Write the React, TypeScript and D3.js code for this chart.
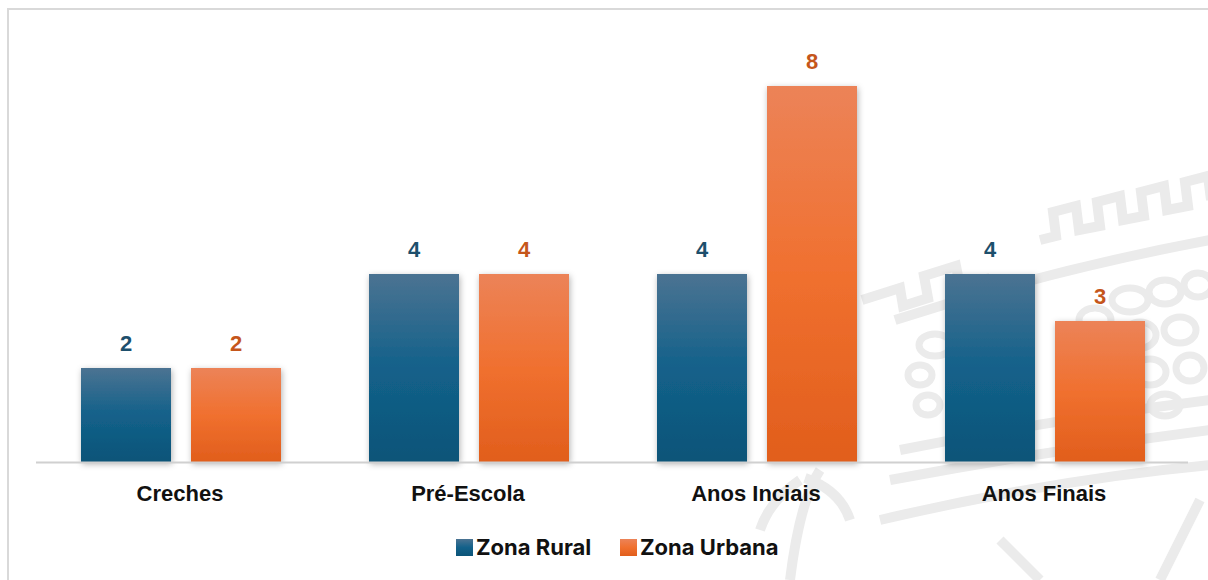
import { useMemo } from "react";
import * as d3 from "d3";

const categories = ["Creches", "Pré-Escola", "Anos Inciais", "Anos Finais"];
const ruralValues = [2, 4, 4, 4];
const urbanValues = [2, 4, 8, 3];
const seriesNames = ["Zona Rural", "Zona Urbana"];

const W = 1208;
const H = 580;

export default function App() {
  const x0 = d3.scaleBand().domain(categories).range([36, 1188]).paddingInner(0).paddingOuter(0);
  const x1 = d3.scaleBand().domain(seriesNames).range([45, 245]).paddingInner(2 / 11);
  const y = d3.scaleLinear().domain([0, 8]).range([462, 86]);

  const series = [
    { name: seriesNames[0], values: ruralValues, fill: "url(#gRural)", label: "#1d4f6c" },
    { name: seriesNames[1], values: urbanValues, fill: "url(#gUrban)", label: "#c5561b" },
  ];

  // faint watermark (crown / stones) in the background
  const merlons = useMemo(() => {
    const pts: string[] = [];
    let px = 1040, py = 240;
    pts.push(`M${px},${py}`);
    for (let i = 0; i < 4; i++) {
      pts.push(`L${px + 16},${py - 4}`);
      pts.push(`L${px + 13},${py - 28}`);
      pts.push(`L${px + 36},${py - 34}`);
      pts.push(`L${px + 39},${py - 10}`);
      px += 44; py -= 10;
    }
    return pts.join(" ");
  }, []);

  const stones = [
    [935, 345, 16, 11], [965, 338, 15, 11], [1130, 300, 18, 12], [1165, 292, 16, 12], [1198, 285, 14, 12],
    [1095, 320, 16, 12], [1140, 335, 16, 13], [1180, 330, 16, 13], [1110, 360, 15, 12], [1150, 372, 16, 13],
    [1190, 368, 14, 13], [1120, 398, 15, 11], [1165, 405, 15, 11], [920, 375, 12, 10], [928, 405, 12, 10],
  ];

  return (
    <svg width={W} height={H} style={{ position: "absolute", left: 0, top: 0, background: "#fff" }}>
      <defs>
        <linearGradient id="gRural" x1="0" y1="0" x2="0" y2="1">
          <stop offset="0" stopColor="#4b7392" />
          <stop offset="0.5" stopColor="#13618a" />
          <stop offset="1" stopColor="#0c5478" />
        </linearGradient>
        <linearGradient id="gUrban" x1="0" y1="0" x2="0" y2="1">
          <stop offset="0" stopColor="#ec8358" />
          <stop offset="0.5" stopColor="#f0702f" />
          <stop offset="1" stopColor="#e15e1c" />
        </linearGradient>
        <filter id="shadow" x="-20%" y="-20%" width="140%" height="140%">
          <feDropShadow dx="1" dy="2" stdDeviation="3" floodColor="#000" floodOpacity="0.3" />
        </filter>
      </defs>

      <g fill="none" stroke="#ebebeb" strokeWidth={10} strokeLinejoin="miter">
        <path d="M862,300 L900,288 L903,306 L928,298 L924,276 L956,266 L960,286 L990,278" />
        <path d={merlons} />
        <path d="M895,320 Q1050,270 1210,240" />
        <path d="M900,450 Q1050,420 1210,400" />
        <path d="M890,480 Q1050,450 1210,430" />
        <path d="M880,520 Q1050,480 1210,465" />
        <path d="M1000,540 L1040,580" />
        <path d="M1200,500 L1160,580" />
        <path d="M820,470 Q800,500 790,580" />
        <path d="M800,480 Q770,500 760,530" />
        <path d="M805,478 Q840,490 850,520" />
      </g>
      <g fill="none" stroke="#ebebeb" strokeWidth={7}>
        {stones.map((s, i) => (
          <ellipse key={i} cx={s[0]} cy={s[1]} rx={s[2]} ry={s[3]} />
        ))}
      </g>

      <rect x={8} y={9} width={1220} height={600} fill="none" stroke="#d9d9d9" strokeWidth={2} />

      {categories.map((c, ci) => (
        <g key={c} transform={`translate(${x0(c)},0)`}>
          {series.map((s) => (
            <rect
              key={s.name}
              x={x1(s.name)}
              y={y(s.values[ci])}
              width={x1.bandwidth()}
              height={y(0) - y(s.values[ci])}
              fill={s.fill}
              filter="url(#shadow)"
            />
          ))}
          {series.map((s) => (
            <text
              key={s.name + "l"}
              x={(x1(s.name) ?? 0) + x1.bandwidth() / 2}
              y={y(s.values[ci]) - 17}
              textAnchor="middle"
              fontFamily="Liberation Sans, Arial, sans-serif"
              fontWeight="bold"
              fontSize={22}
              fill={s.label}
            >
              {s.values[ci]}
            </text>
          ))}
          <text
            x={x0.bandwidth() / 2}
            y={501}
            textAnchor="middle"
            fontFamily="Liberation Sans, Arial, sans-serif"
            fontWeight="bold"
            fontSize={22}
            fill="#111"
          >
            {c}
          </text>
        </g>
      ))}

      <line x1={36} x2={1188} y1={462.5} y2={462.5} stroke="#d0d0d0" strokeWidth={2} />

      <g fontFamily="Inter, sans-serif" fontWeight="bold" fontSize={22} fill="#111">
        <rect x={456} y={539} width={17} height={17} fill="url(#gRural)" />
        <text x={476} y={555}>{seriesNames[0]}</text>
        <rect x={620} y={539} width={17} height={17} fill="url(#gUrban)" />
        <text x={640} y={555}>{seriesNames[1]}</text>
      </g>
    </svg>
  );
}
